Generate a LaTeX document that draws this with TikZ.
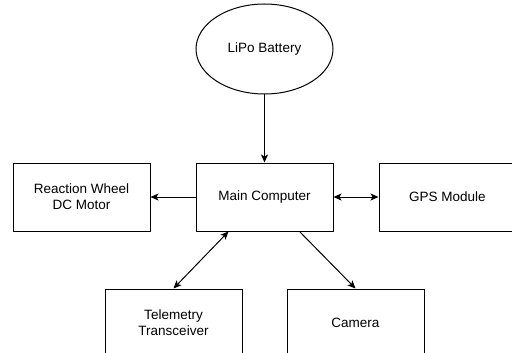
\documentclass[tikz,border=0pt]{standalone}
\usepackage{fontspec}
\setmainfont{Liberation Sans}
\usepackage{tikz}
\usetikzlibrary{positioning,arrows.meta,shapes.geometric}

\tikzset{
  blockbox/.style={draw,line width=1pt,fill=white,minimum width=137pt,minimum height=68pt,
    align=center,font=\fontsize{13.5}{16}\selectfont,inner sep=0pt},
  link/.style={line width=1pt,-{Stealth[length=8pt,width=7pt,inset=2pt]}},
  duallink/.style={line width=1pt,{Stealth[length=8pt,width=7pt,inset=2pt]}-{Stealth[length=8pt,width=7pt,inset=2pt]}}
}

\begin{document}
\begin{tikzpicture}[x=1pt,y=-1pt,node distance=45pt]
  \useasboundingbox (0,0) rectangle (512,353);
  \node[blockbox] (main) at (264.5,197) {Main Computer};
  \node[draw,line width=1pt,ellipse,minimum width=137pt,minimum height=90pt,inner sep=0pt,
    font=\fontsize{13.5}{16}\selectfont,above=68pt of main] (battery) {LiPo Battery};
  \node[blockbox,left=of main] (wheel) {Reaction Wheel\\DC Motor};
  \node[blockbox,right=of main] (gps) {GPS Module};
  \node[blockbox,below=57pt of main,xshift=-91pt] (radio) {Telemetry\\Transceiver};
  \node[blockbox,below=57pt of main,xshift=91pt] (camera) {Camera};
  \coordinate (radioport) at ([xshift=33pt]main.south west);
  \coordinate (cameraport) at ([xshift=-34pt]main.south east);
  \draw[link] (battery) -- (main);
  \draw[link] (main) -- (wheel);
  \draw[duallink] (main) -- (gps);
  \draw[duallink] (radioport) -- (radio.north);
  \draw[link] (cameraport) -- (camera.north);
\end{tikzpicture}
\end{document}
